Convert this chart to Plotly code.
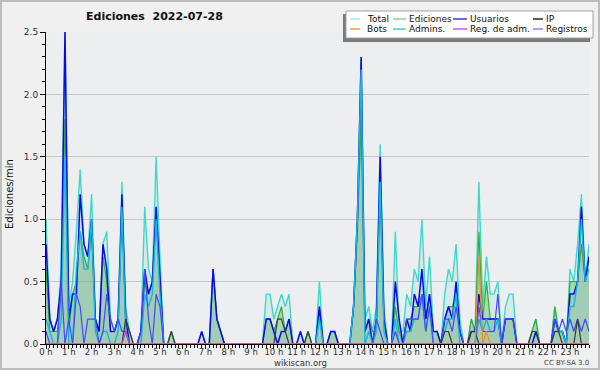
import plotly.graph_objects as go

# 10-minute bins, index 0..143 (0:00 .. 23:50)
hours = [f"{h} h" for h in range(24)]

total = [1.0,0.2,0.1,0.2,0.6,2.5, 0.3,0.5,0.9,1.4,0.8,0.7, 1.2,0.2,0.1,0.8,0.9,0.2, 0.1,0.2,1.3,0.3,0.1,0.0,
         0.0,0.1,1.1,0.6,0.5,1.5, 0.7,0.0,0.0,0.1,0.0,0.0, 0,0,0,0,0,0.1, 0.0,0.0,0.6,0.2,0.1,0.0,
         0,0,0,0,0,0, 0,0,0,0,0.4,0.4, 0.2,0.3,0.4,0.3,0.4,0.0, 0,0.1,0,0.1,0,0,
         0.5,0,0,0.1,0.1,0, 0,0,0,0.3,1.0,2.3, 0.2,0.3,0.1,0.3,1.6,0.3, 0,0,0.9,0.1,0.1,0.4,
         0.3,0.6,0.5,1.0,0.3,0.7, 0.1,0.1,0,0.4,0.6,0.5, 0.8,0.2,0,0,0.2,0.1, 1.3,0.3,0.7,0.4,0.4,0.5,
         0,0.3,0.4,0.4,0,0, 0,0,0.1,0.2,0,0, 0,0,0.3,0.1,0.1,0, 0.6,0.5,0.8,1.2,0.5,0.8]

ediciones = [0.6,0.1,0.1,0.1,0.4,1.8, 0.1,0.4,0.5,0.9,0.7,0.6, 0.9,0.2,0.1,0.7,0.5,0.1, 0.1,0.2,1.1,0.2,0.1,0,
             0,0.1,0.5,0.4,0.5,1.0, 0.5,0,0,0.1,0,0, 0,0,0,0,0,0, 0,0,0.6,0.2,0.1,0,
             0,0,0,0,0,0, 0,0,0,0,0.2,0.2, 0.1,0.2,0.3,0.1,0.2,0, 0,0,0,0.1,0,0,
             0.3,0,0,0.1,0.1,0, 0,0,0,0.3,0.9,1.8, 0.1,0.2,0.1,0.1,1.2,0.2, 0,0,0.3,0.1,0,0.2,
             0.2,0.3,0.3,0.4,0.2,0.4, 0.1,0.1,0,0.2,0.3,0.3, 0.4,0.1,0,0,0.2,0.1, 0.9,0.2,0.5,0.2,0.2,0.2,
             0,0.2,0.2,0.2,0,0, 0,0,0.1,0.2,0,0, 0,0,0.3,0.1,0.1,0, 0.5,0.5,0.5,0.8,0.5,0.7]

usuarios = [0.8,0.2,0.1,0.2,0.5,2.5, 0.2,0.4,0.4,1.2,0.8,0.7, 1.0,0.2,0.1,0.8,0.6,0.1, 0.1,0.2,1.2,0.2,0,0,
            0,0.1,0.6,0.4,0.5,1.1, 0.5,0,0,0,0,0, 0,0,0,0,0,0.1, 0,0,0.6,0.2,0.1,0,
            0,0,0,0,0,0, 0,0,0,0,0.2,0.2, 0.1,0,0.1,0.1,0.2,0, 0,0.1,0,0,0,0,
            0.3,0,0,0.1,0.1,0, 0,0,0,0.3,1.0,2.3, 0.1,0.2,0,0.2,1.5,0.2, 0,0,0.5,0.2,0,0.2,
            0.1,0.4,0.3,0.6,0.2,0.4, 0.1,0.1,0,0.2,0.3,0.2, 0.5,0.1,0,0,0.1,0.1, 0.4,0.2,0.2,0.2,0.2,0.2,
            0,0.2,0.2,0.2,0,0, 0,0,0,0.1,0,0, 0,0,0.2,0.1,0.1,0, 0.4,0.4,0.5,1.1,0.5,0.7]

admins = [0.2,0.1,0,0,0.2,1.5, 0,0,0.6,0.9,0.6,0.6, 1.0,0.1,0,0.1,0.1,0, 0,0.1,1.1,0.1,0,0,
          0,0,0.4,0.3,0.4,1.0, 0.4,0,0,0,0,0, 0,0,0,0,0,0, 0,0,0,0,0,0,
          0,0,0,0,0,0, 0,0,0,0,0,0, 0,0,0,0,0,0, 0,0,0,0,0,0,
          0.2,0,0,0,0,0, 0,0,0,0.3,1.0,2.2, 0,0.1,0,0.1,1.3,0.1, 0,0,0.2,0,0,0.1,
          0.1,0.2,0.2,0.4,0.1,0.3, 0,0,0,0.1,0.2,0.2, 0.4,0,0,0,0,0, 0.2,0.1,0.2,0.1,0.1,0.2,
          0,0,0,0,0,0, 0,0,0,0,0,0, 0,0,0.1,0.1,0.1,0, 0.3,0.3,0.5,1.0,0.5,0.6]

registros = [0.1,0,0,0,0.5,0, 0.2,0,0.4,0.3,0,0.2, 0.2,0.2,0,0.1,0.4,0.2, 0.1,0.2,0.1,0.1,0,0,
             0,0.1,0.6,0.2,0,0.4, 0.3,0,0,0,0,0, 0,0,0,0,0,0, 0,0,0,0,0,0,
             0,0,0,0,0,0, 0,0,0,0,0,0, 0,0,0,0,0,0, 0,0,0,0,0,0,
             0,0,0,0,0,0, 0,0,0,0,0,0, 0,0,0,0.2,0.1,0, 0,0,0.1,0,0,0.2,
             0.2,0.2,0.2,0.4,0.1,0.3, 0,0,0,0.2,0.2,0.1, 0.3,0.1,0,0,0,0, 0.3,0.1,0.1,0.1,0.1,0.4,
             0,0.2,0.2,0.2,0,0, 0,0,0,0,0,0, 0,0,0.2,0.1,0.2,0.1, 0.2,0.1,0.2,0.1,0.2,0.1]

ip = [0]*144
for i, v in {21: 0.2, 22: 0.1, 33: 0.1, 61: 0.2, 62: 0.2, 63: 0.1, 69: 0.1, 105: 0.1, 106: 0.1,
             112: 0.1, 113: 0.1, 128: 0.1, 129: 0.1, 134: 0.1, 135: 0.1, 140: 0.2}.items():
    ip[i] = v
bots = [0]*144
bots[114] = 0.7
bots[116] = 0.1
regadm = [0]*144
regadm[21] = 0.1

x = list(range(144))

fig = go.Figure()
# fills
fig.add_trace(go.Scatter(x=x, y=total, mode="lines", fill="tozeroy",
                         fillcolor="rgba(110,215,200,0.18)", line=dict(width=0), hoverinfo="skip"))
fig.add_trace(go.Scatter(x=x, y=ediciones, mode="lines", fill="tozeroy",
                         fillcolor="rgba(110,195,110,0.42)", line=dict(width=0), hoverinfo="skip"))
fig.add_trace(go.Scatter(x=x, y=usuarios, mode="lines", fill="tozeroy",
                         fillcolor="rgba(40,40,170,0.07)", line=dict(width=0), hoverinfo="skip"))
# lines
def line(y, color, w=1.5):
    fig.add_trace(go.Scatter(x=x, y=y, mode="lines", line=dict(color=color, width=w)))

line(total, "#40d8ca", 1.4)
line(ediciones, "#3aaa3a", 1.2)
line(usuarios, "#0a0ae6", 1.5)
line(admins, "#14b8e2", 1.4)
line(registros, "#4848ff", 1.2)
line(ip, "#3a3a3a", 1.2)
line(bots, "#f29020", 1.3)
line(regadm, "#c040d8", 1.2)

L, R, T, B = 46, 11, 32, 26
W, H = 600, 370
pw, ph = W - L - R, H - T - B

def px(v):
    return (v - L) / pw

def py(v):
    return (H - B - v) / ph

shapes = []
annotations = []

# outer border
shapes.append(dict(type="rect", xref="paper", yref="paper", x0=px(1), x1=px(599), y0=py(1), y1=py(369),
                   line=dict(color="#bdbdbd", width=2), layer="below"))

# legend box with shadow
shapes.append(dict(type="rect", xref="paper", yref="paper", x0=px(343), x1=px(590), y0=py(14), y1=py(42),
                   fillcolor="#7a7a7a", line=dict(width=0)))
shapes.append(dict(type="rect", xref="paper", yref="paper", x0=px(346), x1=px(593), y0=py(11), y1=py(38),
                   fillcolor="#ffffff", line=dict(color="#a0a0a0", width=1)))

legend_items = [
    ("Total", "#a8e6e0", 350, 360, 366, 19),
    ("Ediciones", "#8ad48a", 393, 406, 408, 19),
    ("Usuarios", "#3a3ad8", 453, 467, 469, 19),
    ("IP", "#2a2a2a", 533, 543, 545, 19),
    ("Bots", "#ff9a36", 350, 360, 366, 29),
    ("Admins.", "#44c8e4", 393, 406, 408, 29),
    ("Reg. de adm.", "#d054e0", 453, 467, 469, 29),
    ("Registros", "#8484f2", 533, 543, 545, 29),
]
for name, col, lx0, lx1, tx, ty in legend_items:
    shapes.append(dict(type="line", xref="paper", yref="paper", x0=px(lx0), x1=px(lx1), y0=py(ty), y1=py(ty),
                       line=dict(color=col, width=1.5)))
    annotations.append(dict(text=name, xref="paper", yref="paper", x=px(tx - 1), y=py(ty), xanchor="left",
                            yanchor="middle", showarrow=False, font=dict(size=9, color="#111")))

annotations.append(dict(text="<b>Ediciones\u00a0 2022-07-28</b>", xref="paper", yref="paper", x=px(154), y=py(17),
                        xanchor="center", yanchor="middle", showarrow=False,
                        font=dict(size=11, color="#111")))
annotations.append(dict(text="Ediciones/min", xref="paper", yref="paper", x=px(10), y=py(194),
                        xanchor="center", yanchor="middle", textangle=-90, showarrow=False,
                        font=dict(size=10, color="#111")))
annotations.append(dict(text="wikiscan.org", xref="paper", yref="paper", x=px(300), y=py(363),
                        xanchor="center", yanchor="middle", showarrow=False, borderpad=0,
                        font=dict(size=8.5, color="#333")))
annotations.append(dict(text="CC BY-SA 3.0", xref="paper", yref="paper", x=px(590), y=py(363),
                        xanchor="right", yanchor="middle", showarrow=False, borderpad=0,
                        font=dict(size=7, color="#444")))

fig.update_layout(
    width=W, height=H, margin=dict(l=L, r=R, t=T, b=B, autoexpand=False),
    paper_bgcolor="#f0f0f0", plot_bgcolor="#edeef0",
    showlegend=False,
    font=dict(family="DejaVu Sans", size=9, color="#333"),
    shapes=shapes, annotations=annotations,
    xaxis=dict(range=[0, 143], tickvals=list(range(0, 144, 6)), ticktext=hours, automargin=False,
               showgrid=False, zeroline=False, showline=True, linecolor="#000", linewidth=1,
               ticks="outside", ticklen=4, tickcolor="#000", tickfont=dict(size=8.5, color="#333"),
               ticklabelstandoff=-4,
               minor=dict(dtick=1, tick0=0, ticks="outside", ticklen=3, tickcolor="#000", showgrid=False)),
    yaxis=dict(range=[0, 2.5], dtick=0.5, tickformat=".1f", showgrid=True, gridcolor="#c8c8c8",
               automargin=False,
               zeroline=False, showline=True, linecolor="#000", linewidth=1,
               ticks="outside", ticklen=5, tickcolor="#000", tickfont=dict(size=9, color="#333"),
               minor=dict(dtick=0.1, ticks="outside", ticklen=3, tickcolor="#000", showgrid=False)),
)

fig.write_html("out.html", config={"displayModeBar": False},
               post_script="document.body.style.margin='0';document.body.style.overflow='hidden';")
